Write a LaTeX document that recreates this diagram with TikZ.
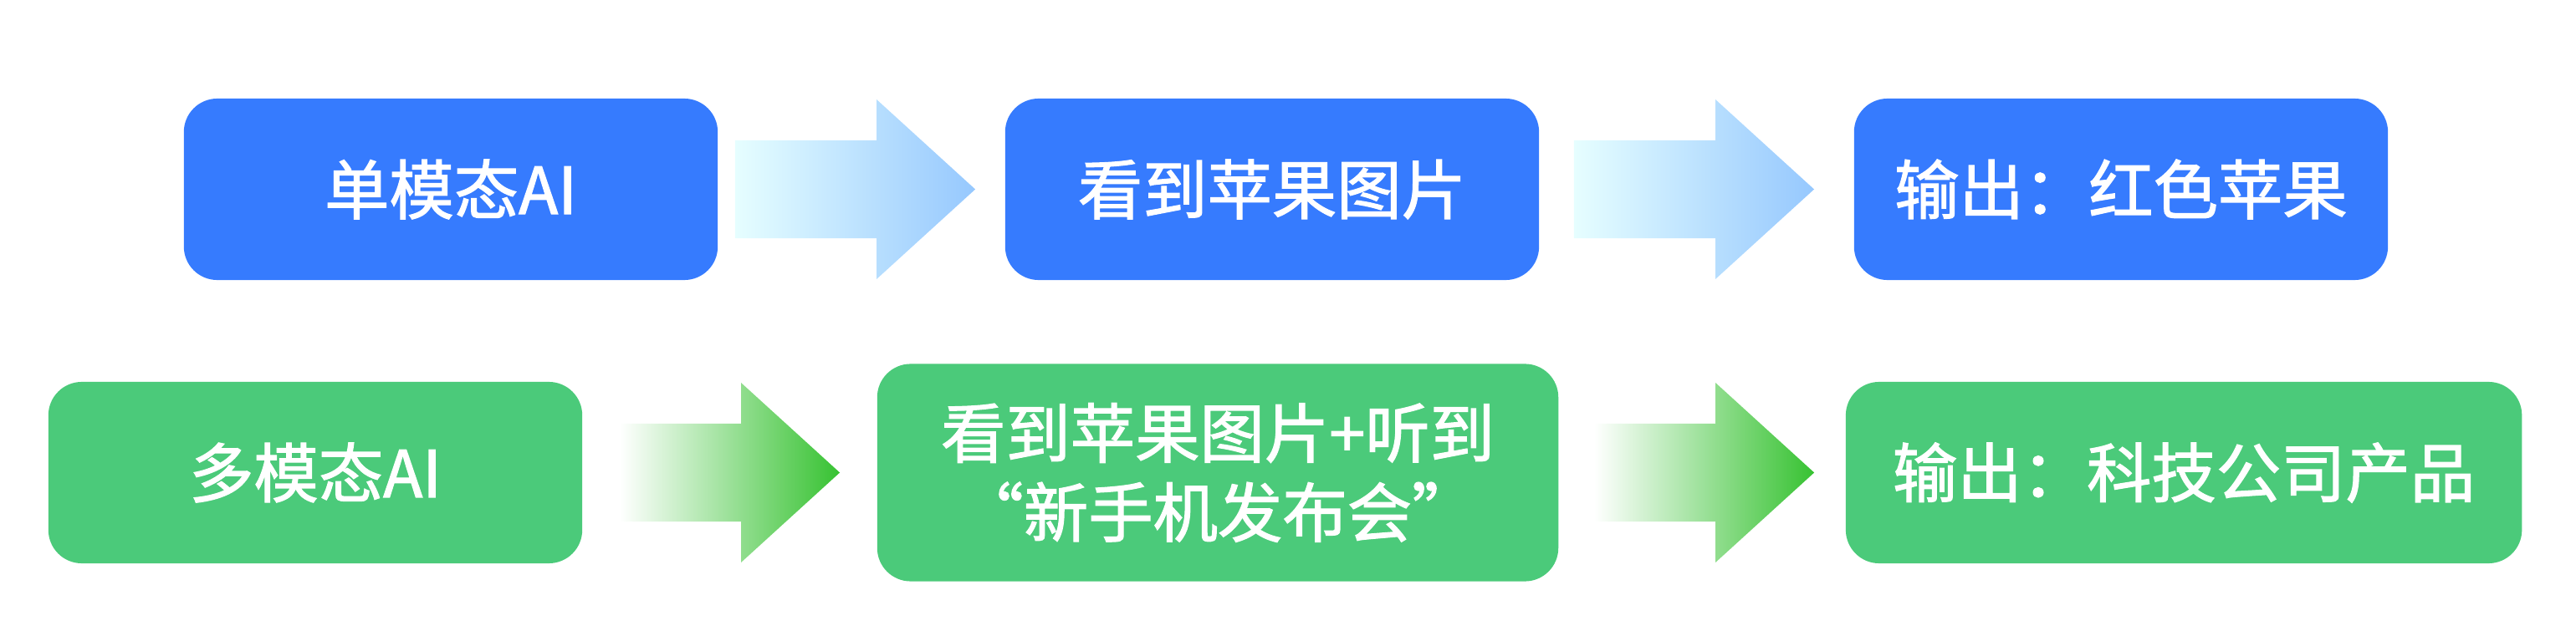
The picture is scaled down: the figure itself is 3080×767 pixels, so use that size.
\documentclass[tikz,border=0pt]{standalone}
\usepackage{fontspec}
\setmainfont{Noto Sans CJK SC}[FakeBold=1.6]
\usetikzlibrary{positioning, calc}
\definecolor{colorSingle}{RGB}{54,123,254}
\definecolor{colorMulti}{RGB}{75,202,122}
\definecolor{colorBlueStart}{RGB}{230,254,255}
\definecolor{colorBlueEnd}{RGB}{150,200,254}
\definecolor{colorGreenEnd}{RGB}{55,194,50}
\tikzset{
  box/.style={rounded corners=0.4cm, inner sep=0pt, minimum height=2.17cm, text=white, align=center, font=\fontsize{22}{27}\selectfont},
  fat/.style={to path={let \p1=(\tikztostart), \p2=(\tikztotarget) in
    (\x1,\y1+0.585cm) -- (\x2-1.18cm,\y1+0.585cm) -- (\x2-1.18cm,\y1+1.075cm) -- (\x2,\y1)
    -- (\x2-1.18cm,\y1-1.075cm) -- (\x2-1.18cm,\y1-0.585cm) -- (\x1,\y1-0.585cm) -- cycle}},
  fatBlue/.style={fat, left color=colorBlueStart, right color=colorBlueEnd},
  fatGreen/.style={fat, left color=white, right color=colorGreenEnd},
}

\begin{document}
\begin{tikzpicture}[x=0.01cm, y=-0.01cm]
\useasboundingbox (0,0) rectangle (3080,767);
% single modality row
\node[box, fill=colorSingle, minimum width=6.38cm] (s0) at (539,226.5) {单模态AI};
\node[box, fill=colorSingle, minimum width=6.38cm, right=3.42cm of s0] (s1) {看到苹果图片};
\node[box, fill=colorSingle, minimum width=6.38cm, right=3.75cm of s1] (s2) {输出：红色苹果};
% multi modality row
\node[box, fill=colorMulti, minimum width=6.38cm] (m0) at (377,565.5) {多模态AI};
\node[box, fill=colorMulti, minimum width=8.14cm, minimum height=2.60cm, right=3.51cm of m0] (m1) {看到苹果图片+听到\\“新手机发布会”};
\node[box, fill=colorMulti, minimum width=8.08cm, right=3.42cm of m1] (m2) {输出：科技公司产品};
\path[fatBlue] ([xshift=0.2cm]s0.east) to ([xshift=-0.35cm]s1.west);
\path[fatBlue] ([xshift=0.41cm]s1.east) to ([xshift=-0.47cm]s2.west);
\path[fatGreen] ([xshift=0.44cm]m0.east) to ([xshift=-0.44cm]m1.west);
\path[fatGreen] ([xshift=0.42cm]m1.east) to ([xshift=-0.37cm]m2.west);
\end{tikzpicture}
\end{document}
